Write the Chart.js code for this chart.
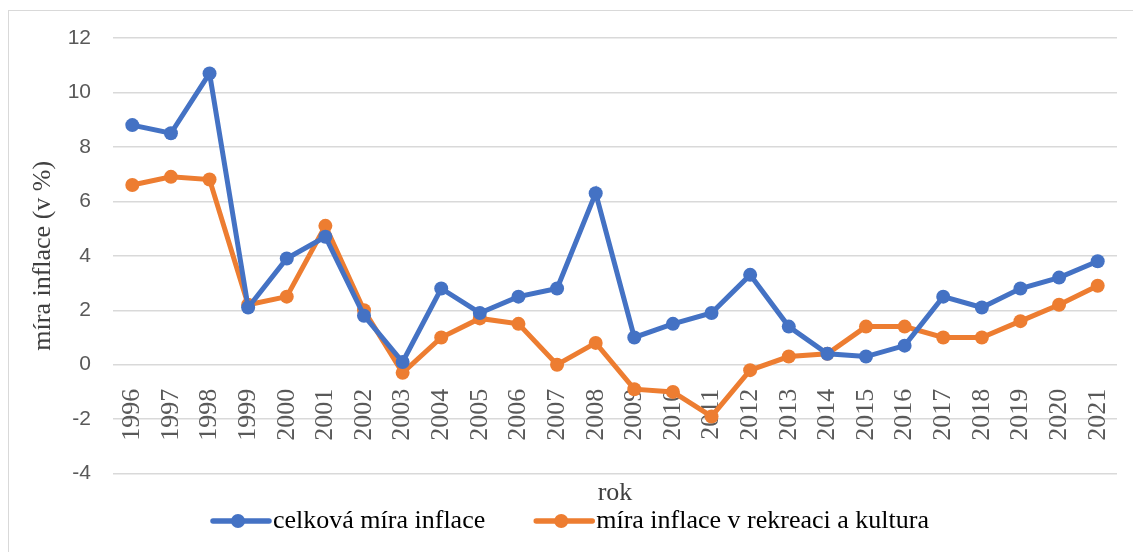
<!DOCTYPE html>
<html>
<head>
<meta charset="utf-8">
<script src="https://cdn.jsdelivr.net/npm/chart.js@4/dist/chart.umd.min.js"></script>
<style>
    html, body { margin: 0; padding: 0; background: #fff; overflow: hidden; }
    #frame { position: absolute; left: 8px; top: 10px; width: 1160px; height: 580px; border: 1.5px solid #d9d9d9; }
    #wrap { position: absolute; left: 0; top: 0; width: 1133px; height: 552px; }
</style>
</head>
<body>
<div id="frame"></div>
<div id="wrap"><canvas id="inflace"></canvas></div>
<script>
var years = ['1996', '1997', '1998', '1999', '2000', '2001', '2002', '2003', '2004', '2005', '2006', '2007', '2008',
             '2009', '2010', '2011', '2012', '2013', '2014', '2015', '2016', '2017', '2018', '2019', '2020', '2021'];
var celkova = [8.8, 8.5, 10.7, 2.1, 3.9, 4.7, 1.8, 0.1, 2.8, 1.9, 2.5, 2.8, 6.3,
               1.0, 1.5, 1.9, 3.3, 1.4, 0.4, 0.3, 0.7, 2.5, 2.1, 2.8, 3.2, 3.8];
var rekreace = [6.6, 6.9, 6.8, 2.2, 2.5, 5.1, 2.0, -0.3, 1.0, 1.7, 1.5, 0.0, 0.8,
                -0.9, -1.0, -1.9, -0.2, 0.3, 0.4, 1.4, 1.4, 1.0, 1.0, 1.6, 2.2, 2.9];
var seriesNames = ['celková míra inflace', 'míra inflace v rekreaci a kultura'];
var yMin = -4, yMax = 12, yStep = 2;

var blue = '#4472C4';
var orange = '#ED7D31';
var serif = "'Liberation Serif', 'Times New Roman', serif";

// legend sample = line with a dot, drawn into the (transparent) legend box
var legendSamples = {
    id: 'legendSamples',
    afterDraw: function(chart) {
        var legend = chart.legend;
        var ctx = chart.ctx;
        var boxW = legend.options.labels.boxWidth;
        legend.legendItems.forEach(function(item, i) {
            var hb = legend.legendHitBoxes[i];
            var color = chart.data.datasets[item.datasetIndex].borderColor;
            var x2 = hb.left + boxW + 9;
            var x1 = x2 - 56;
            var y = hb.top + hb.height / 2;
            ctx.save();
            ctx.strokeStyle = color;
            ctx.fillStyle = color;
            ctx.lineWidth = 5.5;
            ctx.lineCap = 'round';
            ctx.beginPath();
            ctx.moveTo(x1, y);
            ctx.lineTo(x2, y);
            ctx.stroke();
            ctx.beginPath();
            ctx.arc((x1 + x2) / 2 - 3, y, 7, 0, Math.PI * 2);
            ctx.fill();
            ctx.restore();
        });
    }
};

new Chart(document.getElementById('inflace'), {
    type: 'line',
    data: {
        labels: years,
        datasets: [{
            label: seriesNames[0],
            data: celkova,
            borderColor: blue,
            backgroundColor: blue,
            borderWidth: 5,
            pointRadius: 7,
            pointBorderWidth: 0,
        }, {
            label: seriesNames[1],
            data: rekreace,
            borderColor: orange,
            backgroundColor: orange,
            borderWidth: 5,
            pointRadius: 7,
            pointBorderWidth: 0,
        }],
    },
    options: {
        responsive: true,
        maintainAspectRatio: false,
        animation: false,
        layout: {
            padding: {left: -22, top: 38, right: 16, bottom: 8}
        },
        plugins: {
            tooltip: {enabled: false},
            title: {
                display: true,
                text: 'rok',
                position: 'bottom',
                fullSize: false,
                weight: 500,  // sits between plot and legend
                color: '#404040',
                font: {family: serif, size: 26, weight: 'normal', lineHeight: 0.8},
                padding: {top: 9.6, bottom: 0},
            },
            legend: {
                position: 'bottom',
                labels: {
                    boxWidth: 94,
                    padding: 4,
                    color: '#404040',
                    font: {family: serif, size: 26},
                    generateLabels: function(chart) {
                        return chart.data.datasets.map(function(ds, i) {
                            return {
                                text: ds.label,
                                fillStyle: 'rgba(0,0,0,0)',
                                strokeStyle: 'rgba(0,0,0,0)',
                                lineWidth: 0,
                                datasetIndex: i,
                            };
                        });
                    }
                }
            }
        },
        scales: {
            x: {
                position: {y: 0},
                offset: true,
                grid: {display: false},
                border: {display: false},
                ticks: {
                    autoSkip: false,
                    minRotation: 90,
                    maxRotation: 90,
                    padding: 16,
                    color: '#595959',
                    font: {family: serif, size: 26},
                },
                afterFit: function(scale) {
                    scale.height = 0;
                    scale.paddingLeft = 0;
                    scale.paddingRight = 0;
                }
            },
            y: {
                min: yMin,
                max: yMax,
                grid: {color: '#d9d9d9', lineWidth: 1.5, drawTicks: false},
                border: {display: false},
                ticks: {
                    stepSize: yStep,
                    padding: 22,
                    color: '#595959',
                    font: {family: "'Liberation Sans', Arial, sans-serif", size: 21},
                },
                title: {
                    display: true,
                    text: 'míra inflace (v %)',
                    color: '#404040',
                    font: {family: serif, size: 26},
                    padding: {top: 50, bottom: 4},
                },
                afterFit: function(scale) { scale.width = 135; }
            }
        }
    },
    plugins: [legendSamples]
});
</script>
</body>
</html>
